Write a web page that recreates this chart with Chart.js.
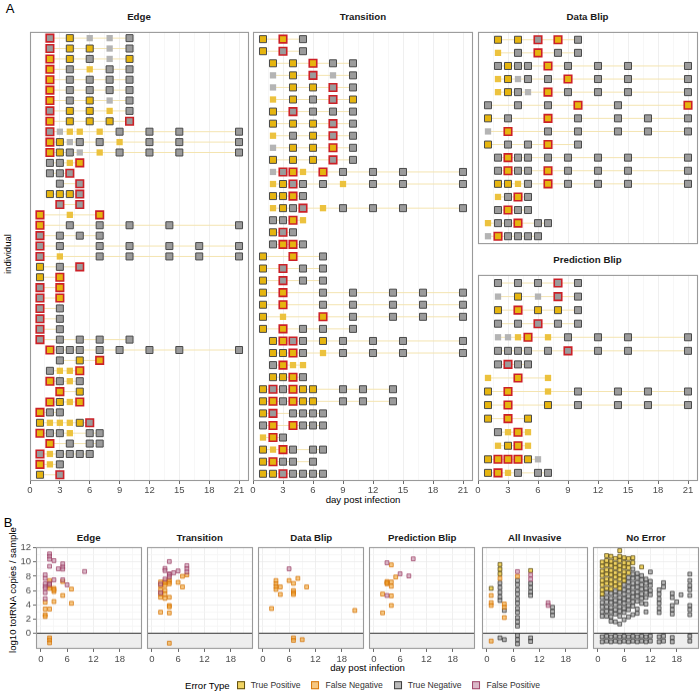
<!DOCTYPE html>
<html><head><meta charset="utf-8">
<script src="https://cdn.jsdelivr.net/npm/chart.js@4.4.1/dist/chart.umd.min.js"></script>
<style>
html,body{margin:0;padding:0;background:#fff;}
#wrap{position:relative;width:700px;height:692px;overflow:hidden;font-family:"Liberation Sans",Arial,sans-serif;background:#fff;}
canvas{position:absolute;}
.t{position:absolute;transform:translate(-50%,-50%);white-space:nowrap;line-height:1;}
.strip{font-weight:bold;font-size:9.7px;color:#1a1a1a;}
.axt{font-size:9.6px;color:#000;}
.tag{font-size:13px;color:#000;}
.rot{transform:translate(-50%,-50%) rotate(-90deg);}
#legend{position:absolute;left:368px;top:685.7px;transform:translate(-50%,-50%);display:flex;align-items:center;white-space:nowrap;line-height:1;}
#legend .lt{font-size:9.6px;color:#000;margin-right:7px;}
#legend .sq{width:6px;height:6px;border:1px solid;margin-right:6px;}
#legend .tx{font-size:8.6px;color:#333;margin-right:11px;}
</style></head>
<body><div id="wrap">
<div class="t tag" style="left:10px;top:8px;">A</div>
<div class="t strip" style="left:139px;top:17px;">Edge</div>
<div class="t strip" style="left:363px;top:17px;">Transition</div>
<div class="t strip" style="left:587.5px;top:17px;">Data Blip</div>
<div class="t strip" style="left:587.5px;top:260px;">Prediction Blip</div>
<div class="t axt rot" style="left:8px;top:254px;">individual</div>
<div class="t axt" style="left:363px;top:500px;">day post infection</div>
<div class="t tag" style="left:8px;top:522px;">B</div>
<div class="t strip" style="left:88.7px;top:538.3px;">Edge</div>
<div class="t strip" style="left:199.7px;top:538.3px;">Transition</div>
<div class="t strip" style="left:311.3px;top:538.3px;">Data Blip</div>
<div class="t strip" style="left:422.3px;top:538.3px;">Prediction Blip</div>
<div class="t strip" style="left:534.7px;top:538.3px;">All Invasive</div>
<div class="t strip" style="left:645.8px;top:538.3px;">No Error</div>
<div class="t axt rot" style="left:13px;top:590px;">log10 totRNA copies / sample</div>
<div class="t axt" style="left:367.5px;top:668.3px;">day post infection</div>
<div id="legend"></div>
</div>
<script>
// ---------------- DATA: panel A (day + code per individual row) ----------------
// codes: YD yellow/dark border, GD grey/dark border, YR yellow/red border, GR grey/red border, Y small yellow, G small grey
const edgeRows = [
"2GR 4YD 6G 8G 10GD","2GR 4YD 6YD 8G 10GD","2YR 4YD 6GD 8G 10YD","2YR 4GD 6Y 8GD 10GD",
"2YR 4GD 6GD 8GD 10GD","2YR 4GD 6GD 8GD 10GD","2YR 4GD 6YD 8G 10GD","2GR 4YD 6YD 8Y 10GD",
"2YR 4YD 6YD 8YD 10GR","2GR 3G 4Y 5Y 7Y 9GD 12GD 15GD 21GD","2YR 3YD 4G 5GD 7GD 9Y 12GD 15GD 21GD",
"2YR 3YD 4GD 5G 7Y 9GD 12GD 15GD 21GD","2GD 3GD 4Y 5YR","2GD 3GD 4GR","3GD 5GR","2YD 3YD 4YD 5GR",
"3GR 5GR","1YR 4Y 7YR","1YR 4GD 7GD 10GD 14GD 21GD","1GR 3GD 5GD 7GD",
"1GR 3GD 7GD 10GD 14GD 17GD 21GD","1GR 3Y 7GD 10GD 14GD 17GD 21GD","1YD 3GD 5GR","1YD 3YR",
"1GR 3YR","1GR 3YR","1GR 3GD","1GR 3GD","1GR 3GD","1GR 3GD 5GD 7GD 10GD",
"2YR 3GD 4GD 5GD 7GD 9GD 12GD 15GD 21GD","3GD 5YD 7YR","2GD 3Y 4Y 5YR","2YR 3GD 4Y 5GD",
"3YR 5YD","2YR 3YD 4Y 5YR","1YR 2GD 3GD","1YD 2Y 3Y 4Y 5YD 6GR","1YR 2GD 3GD 4Y 6GD 7GD",
"2YR 4GD 6GD 7GD","1GR 2Y 3GD 4GD 5GD 6GD","1YR 2Y 3GD","1YD 3GR"
];
const transitionRows = [
"1YD 3YR 5GD","1YD 3GR 5GD","2YD 4YD 6YR 8GD 10GD","2G 4YD 6GR 8G 10GD","2G 4YD 6YD 8GR 10GD",
"2Y 4YD 6GD 8GR 10YD","2YD 4GR 6GD 8GD 10GD","2YD 4YD 6YD 8GR 10GD","2Y 4GD 6YD 8GR 10GD",
"2G 4YD 6YD 8YR 10GD","2YD 4YD 6YD 8GR 10GD","2G 3GR 4YR 5Y 7YR 9GD 12GD 15GD 21GD",
"2Y 3YD 4GR 5GD 7GD 9Y 12GD 15GD 21GD","2YD 3YD 4YR 5GD","2Y 3YD 4GD 5GR 7Y 9GD 12GD 15GD 21GD",
"2GD 3GD 4YR 5Y","2YD 3GR 4GD","2GD 3YR 4YR 5GD","1YD 4YR 7GD","1YD 3GR 5GD 7GD","1YD 3GR 5GD 7GD",
"1YD 3YR 7GD 10GD 14GD 17GD 21GD","1YD 3YR 7GD 10GD 14GD 17GD 21GD","1YD 3Y 7YR 10GD 14GD 17GD 21GD",
"1YD 3YR 5GD 7GD 10GD","2YD 3YR 4GR 5GD 7YD 9GD 12GD 15GD 21GD","2YD 3YD 4YR 5GD 7Y 9GD 12GD 15GD 21GD",
"2GD 3YR 4Y 5Y","2YD 3YD 4YR 5GD","1YD 2GR 3GD 4YR 5YD 6YD 9GD 11GD 14GD",
"1YD 2YR 3GD 4YR 5YD 6YD 9GD 11GD 14GD","1YD 2GR 4GD 5GD 6GD 7GD","1GD 2YR 4YR 5GD 6GD 7GD",
"1Y 2YR 3GD","1YD 2Y 3YR 4GD 6GD 7GD","1YD 2YR 3GD 4GD 6GD","1YD 2YD 3GR 4GD 5GD 6GD 7GD"
];
const dataBlipRows = [
"2YD 4YD 6GR 8YR 10GD","2Y 4GD 6YR 8GD 10GD","2GD 3YD 4GD 5GD 7YR 9GD 12GD 15GD 21GD",
"2Y 3YD 4G 5GD 7GD 9YR 12GD 15GD 21GD","2Y 3YD 4GD 5G 7YR 9GD 12GD 15GD 21GD",
"1GD 4GD 7GD 10YR 14GD 21YR","1YD 3GD 7YR 10GD 14GD 17GD 21GD","1G 3YR 7GD 10GD 14GD 17GD 21GD",
"1YD 3GD 5GD 7YR 10GD","2GD 3YR 4GD 5GD 7GD 9GD 12GD 15GD 21GD","2GD 3YR 4GD 5GD 7YR 9GD 12GD 15GD 21GD",
"2YD 3YD 4Y 5GD 7YR 9GD 12GD 15GD 21GD","2Y 3GD 4YR 5GD","2GD 3YR 4GD 5GD","1Y 2GD 3GD 4YR 6GD 7GD",
"1G 2YR 3GD 4GD 5GD 6GD"
];
const predBlipRows = [
"2GD 4GD 6GD 8GR 10GD","2G 4YD 6G 8GR 10GD","2YD 4YR 6YD 8YD 10GD","2GD 4GD 6GR 8GD 10GD",
"2G 3G 4Y 5YR 7Y 9GD 12GD 15GD 21GD","2GD 3GD 4GD 5GD 7GD 9GR 12GD 15GD 21GD","2GD 3GR 4GD 5GD",
"1Y 4YR 7Y","1YD 3YR 7Y 10GD 14GD 17GD 21GD","1YD 3YR 7YD 10GD 14GD 17GD 21GD","1YD 3YR 5YD",
"2GD 3Y 4YR 5Y","2Y 3YD 4YR 5Y","1YD 2YR 3YR 4YR 5YD 6G","1YD 2YR 3Y 4GD 6GD 7GD"
];
const dayTicksA = [0,3,6,9,12,15,18,21];
const dayTicksB = [0,6,12,18];
const yTicksB = [0,2,4,6,8,10,12];

// ---------------- DATA: panel B ([day, log10 copies]) ----------------
const bEdgeFP = [[2,11.15],[2,10.8],[2,10.4],[3,10.2],[2,9.4],[4,9.05],[5,9.75],[5,9.3],[5,9.0],[10,8.67],
 [1,8.2],[1,7.7],[1,6.95],[1,6.55],[1,6.3],[1,5.7],[1,4.85],[3,7.5],[6,6.8],[5,7.5],[2,7.0],[2,6.85]];
const bEdgeFN = [[2,7.4],[2,6.6],[3,6.3],[3,5.85],[5,5.3],[3,4.45],[1,4.35],[7,4.2],[1,3.4],[2,3.4],
 [1,2.6],[1,2.35],[5,7.26],[7,6.2],[2,6.3],[3,6.1],[2,-0.65],[2,-0.95],[2,-1.35]];
const bTransFP = [[4,10.07],[3,9.1],[3,8.8],[4,8.35],[5,8.5],[6,8.75],[8,9.5],[8,9.05],[8,8.6],[4,8.2],[4,7.9],[3,7.6],[2,6.9],[2,5.7]];
const bTransFN = [[8,8.2],[7,8.0],[3,7.3],[2,7.2],[3,7.05],[4,7.2],[2,6.7],[3,6.7],[4,6.95],[2,6.1],[3,6.0],[2,5.5],
 [3,5.5],[2,5.05],[3,4.9],[6,7.15],[7,6.5],[4,5.05],[4,3.9],[4,3.7],[2,2.95],[4,2.85],[4,7.5],[4,-1.4]];
const bDataFP = [[6,9.05]];
const bDataFN = [[3,7.4],[3,6.95],[3,6.55],[3,6.15],[4,6.5],[4,5.45],[6,7.4],[7,7.0],[8,7.7],[7,6.0],[7,5.7],
 [7,5.45],[10,6.5],[2,3.47],[21,3.2],[7,-0.65],[7,-1.0],[9,-0.9]];
const bPredFP = [[3,9.9],[9,10.45],[6,8.35],[8,8.05],[3,5.3]];
const bPredFN = [[4,9.6],[5,7.9],[3,7.26],[3,6.95],[4,7.2],[4,6.6],[2,5.5],[4,5.25],[4,3.9],[2,2.86],[3,7.1]];
const invTP = [[1,6.3],[3,9.65],[3,9.0],[3,8.35],[10,8.8]];
const invFN = [[1,5.3],[1,4.3],[1,3.9],[1,-1.1],[4,4.1],[4,3.65],[4,2.2],[3,7.7],[7,8.0]];
const invFP = [[7,8.65],[10,8.2],[10,7.6],[14,4.27],[14,3.9]];
const invTN = [[3,7.05],[3,6.4],[3,5.75],[3,5.1],[3,4.6],[3,-0.65],[4,3.2],[4,-0.9],
 [7,7.4],[7,6.8],[7,6.1],[7,5.5],[7,4.8],[7,4.2],[7,3.5],[7,2.9],[7,2.2],[7,1.6],[7,1.0],
 [7,-0.3],[7,-0.9],[7,-1.5],[10,7.0],[10,6.4],[10,5.8],[10,5.3],[10,-0.65],[10,-1.15],
 [15,3.65],[15,3.05],[15,2.5]];
// No Error: [day, values...]
const noErrTP = [
 [1,10.0,9.4,8.7,8.1,7.4,6.8,6.1,5.5],
 [2,10.9,10.2,9.6,8.9,8.3,7.6,7.0,6.3],
 [3,10.8,10.1,9.5,8.8,8.2,7.5,6.9,6.2],
 [4,10.5,9.8,9.2,8.5,7.9,7.2,6.6],
 [5,11.6,10.8,10.2,9.5,8.9,8.2,7.6,6.9,6.3],
 [6,10.6,9.9,9.3,8.6,8.0,7.4],
 [7,10.5,9.8,9.2,8.5],
 [8,10.6,9.9],
 [10,9.3]
];
const noErrTN = [
 [1,5.0,4.3,3.7,3.0,2.4,-0.5,-1.2],
 [2,5.7,5.0,4.4,3.7,3.1,2.4,-0.4,-1.1],
 [3,5.6,4.9,4.3,3.6,3.0,2.3,1.7,-0.5,-1.2],
 [4,5.9,5.3,4.6,4.0,3.3,2.7,1.6,-0.4,-1.1],
 [5,5.7,5.0,4.4,3.7,3.1,2.4,1.3,-0.5,-1.2],
 [6,6.8,6.1,5.5,4.8,4.2,3.5,2.9,1.9,-0.4,-1.1],
 [7,7.8,7.2,6.5,5.9,5.2,4.6,3.9,3.3,2.3,-0.5,-1.2],
 [8,9.0,8.3,7.7,7.0,6.4,5.7,5.1,4.4,3.8,2.6,-0.4,-1.1],
 [9,8.4,7.8,7.1,6.5,5.8,5.2,4.5,3.4,2.8,-0.5,-1.2],
 [10,8.1,7.5,6.8,6.2,5.5,4.9,4.2,-0.4,-1.1],
 [11,7.6,7.0,6.3,5.7,5.0,4.1,3.0,-0.5,-1.2],
 [12,8.6,7.3,6.7,6.0,5.4,-0.4,-1.1],
 [14,6.1,5.5,4.8,4.2,3.5,2.9,-0.5,-1.2],
 [15,7.1,6.5,-0.4,-1.1],
 [17,5.6,5.0,3.9,3.3,2.7,-0.6,-1.2],
 [18,4.4],
 [19,5.4],
 [21,8.3,7.4,6.7,6.1,5.3,3.9,3.3,2.6,-0.4,-1.1]
];

// ---------------- RENDERING ----------------
Chart.defaults.font.family = '"Liberation Sans", Arial, sans-serif';
Chart.defaults.color = '#4d4d4d';
const wrap = document.getElementById('wrap');
const C = {yellow:'#E6B50F', grey:'#9B9B9B', dark:'#4A4A4A', red:'#CC2027', sYellow:'#ECC23E', sGrey:'#B4B4B4', line:'#F4E4B0'};
const B = {
  TP:{bg:'rgba(231,184,0,0.62)', bd:'rgba(70,55,0,0.85)'},
  FN:{bg:'rgba(240,162,45,0.6)', bd:'rgba(212,112,0,0.9)'},
  TN:{bg:'rgba(140,140,140,0.6)', bd:'rgba(40,40,40,0.85)'},
  FP:{bg:'rgba(196,140,166,0.62)', bd:'rgba(150,50,90,0.85)'}
};
const near = (arr, v) => arr.some(t => Math.abs(t - v) < 1e-6);

function mkCanvas(left, top, w, h){
  const c = document.createElement('canvas');
  c.width = w; c.height = h;
  c.style.left = left + 'px'; c.style.top = top + 'px';
  c.style.width = w + 'px'; c.style.height = h + 'px';
  wrap.appendChild(c);
  return c;
}
const borderPlugin = {id:'pborder', afterDraw(chart){
  const {ctx, chartArea:a} = chart;
  ctx.save(); ctx.strokeStyle = '#9a9a9a'; ctx.lineWidth = 1.1;
  ctx.strokeRect(a.left + 0.5, a.top + 0.5, a.width - 1, a.height - 1); ctx.restore();
}};
const shadePlugin = {id:'shade', beforeDatasetsDraw(chart){
  const {ctx, chartArea:a, scales} = chart; const y0 = scales.y.getPixelForValue(0);
  ctx.save(); ctx.fillStyle = '#EEEEEE'; ctx.fillRect(a.left, y0, a.width, a.bottom - y0);
  ctx.strokeStyle = '#333'; ctx.lineWidth = 1.1; ctx.beginPath(); ctx.moveTo(a.left, y0); ctx.lineTo(a.right, y0); ctx.stroke();
  ctx.restore();
}};

function buildRows(rows){
  const pts = {YD:[],GD:[],YR:[],GR:[],Y:[],G:[]}; const line = [];
  rows.forEach((r, i) => {
    const y = i + 1;
    const items = r.trim().split(/\s+/).map(s => { const m = s.match(/^(\d+)([A-Z]+)$/); return {x:+m[1], c:m[2]}; });
    items.forEach(it => pts[it.c].push({x:it.x, y}));
    const xs = items.map(it => it.x);
    line.push({x:Math.min(...xs), y}, {x:Math.max(...xs), y}, {x:Math.max(...xs), y:null});
  });
  return {pts, line};
}

const PAD = 12;
function aChart(rows, L, T, W, H, showX){
  const n = rows.length; const {pts, line} = buildRows(rows);
  const padB = showX ? 22 : 0;
  const c = mkCanvas(L - PAD, T - 2, W + 2*PAD, H + 2 + padB);
  const sq = (data, r, bg, bd, bw, order) => ({data, pointStyle:'rect', pointRadius:r, pointBackgroundColor:bg, pointBorderColor:bd, pointBorderWidth:bw, order});
  new Chart(c, {
    type:'scatter',
    data:{datasets:[
      sq(pts.GR, 5.3, C.grey, C.red, 1.6, 0),
      sq(pts.YR, 5.3, C.yellow, C.red, 1.6, 0),
      sq(pts.GD, 4.95, C.grey, C.dark, 1, 1),
      sq(pts.YD, 4.95, C.yellow, C.dark, 1, 1),
      sq(pts.G, 4.45, C.sGrey, C.sGrey, 0, 2),
      sq(pts.Y, 4.45, C.sYellow, C.sYellow, 0, 2),
      {data:line, showLine:true, spanGaps:false, borderColor:C.line, borderWidth:1, pointRadius:0, order:3}
    ]},
    options:{
      responsive:false, animation:false, events:[],
      layout:{padding:{left:PAD, right:PAD, top:2, bottom:0}},
      plugins:{legend:{display:false}, tooltip:{enabled:false}},
      scales:{
        x:{type:'linear', min:0, max:22, border:{display:false},
          ticks:{display:showX, stepSize:1.5, includeBounds:false, autoSkip:false, maxRotation:0, padding:1,
            font:{size:9.5}, color:'#4d4d4d', callback:v => near(dayTicksA, v) ? String(v) : ''},
          grid:{color:cx => (cx.tick && near(dayTicksA, cx.tick.value)) ? '#EBEBEB' : '#F5F5F5', lineWidth:0.8,
            drawTicks:showX, tickLength:3, tickWidth:0.8,
            tickColor:cx => (cx.tick && near(dayTicksA, cx.tick.value)) ? '#444' : 'rgba(0,0,0,0)'},
          afterFit:s => { s.height = padB; }},
        y:{type:'linear', display:false, reverse:true, min:0.4, max:n + 0.6}
      }
    },
    plugins:[borderPlugin]
  });
}

aChart(edgeRows, 29.5, 27, 219, 454, true);
aChart(transitionRows, 253, 27, 220, 454, true);
aChart(dataBlipRows, 477.5, 27, 220, 224, false);
aChart(predBlipRows, 477.5, 270, 220, 211, true);

function toPts(arr){ return arr.map(p => ({x:p[0], y:p[1]})); }
function colPts(cols){ const out = []; cols.forEach(c => { for (let i = 1; i < c.length; i++) out.push({x:c[0], y:c[i]}); }); return out; }

function bChart(L, T, W, H, sets, first){
  const yW = first ? 22 : 0; const padL = first ? 0 : 8; const padT = 8, padR = 8, padB = 16;
  const c = mkCanvas(L - yW - padL, T - padT, W + yW + padL + padR, H + padT + padB);
  const ds = [];
  const add = (data, k, order) => { if (data && data.length) ds.push({data, pointStyle:'rect', pointRadius:2.7,
    pointBackgroundColor:B[k].bg, pointBorderColor:B[k].bd, pointBorderWidth:0.8, order}); };
  add(sets.FP, 'FP', 0); add(sets.FN, 'FN', 1); add(sets.TP, 'TP', 2); add(sets.TN, 'TN', 3);
  const gridCol = (cx, ticks) => { if (!cx.tick) return '#EBEBEB'; const v = cx.tick.value; if (v < 0) return 'rgba(0,0,0,0)'; return near(ticks, v) ? '#EBEBEB' : '#F5F5F5'; };
  new Chart(c, {
    type:'scatter', data:{datasets:ds},
    options:{
      responsive:false, animation:false, events:[],
      layout:{padding:{left:padL, right:padR, top:padT, bottom:0}},
      plugins:{legend:{display:false}, tooltip:{enabled:false}},
      scales:{
        x:{type:'linear', min:-1.1, max:23.1, border:{display:false},
          ticks:{stepSize:3, includeBounds:false, autoSkip:false, maxRotation:0, padding:2, font:{size:9.5}, color:'#4d4d4d',
            callback:v => near(dayTicksB, v) ? String(v) : ''},
          grid:{color:cx => gridCol(cx, dayTicksB), lineWidth:0.8, tickLength:3, tickWidth:0.8,
            tickColor:cx => (cx.tick && near(dayTicksB, cx.tick.value)) ? '#444' : 'rgba(0,0,0,0)'},
          afterFit:s => { s.height = padB; }},
        y:{type:'linear', min:-2.2, max:12.1, border:{display:false},
          ticks:{display:first, stepSize:1, includeBounds:false, autoSkip:false, padding:2, font:{size:9.5}, color:'#4d4d4d',
            callback:v => near(yTicksB, v) ? String(v) : ''},
          grid:{color:cx => gridCol(cx, yTicksB), lineWidth:0.8, drawTicks:first, tickLength:3, tickWidth:0.8,
            tickColor:cx => (cx.tick && near(yTicksB, cx.tick.value)) ? '#444' : 'rgba(0,0,0,0)'},
          afterFit:s => { s.width = yW; }}
      }
    },
    plugins:[shadePlugin, borderPlugin]
  });
}

const BT = 547, BH = 101.5, BW = 106;
bChart(35.7, BT, BW, BH, {FP:toPts(bEdgeFP), FN:toPts(bEdgeFN)}, true);
bChart(146.7, BT, BW, BH, {FP:toPts(bTransFP), FN:toPts(bTransFN)}, false);
bChart(258.3, BT, BW, BH, {FP:toPts(bDataFP), FN:toPts(bDataFN)}, false);
bChart(369.3, BT, BW, BH, {FP:toPts(bPredFP), FN:toPts(bPredFN)}, false);
bChart(481.7, BT, BW, BH, {TP:toPts(invTP), FN:toPts(invFN), FP:toPts(invFP), TN:toPts(invTN)}, false);
bChart(592.5, BT, BW, BH, {TP:colPts(noErrTP), TN:colPts(noErrTN)}, false);

// legend
const legendItems = [['True Positive','TP'],['False Negative','FN'],['True Negative','TN'],['False Positive','FP']];
const lg = document.getElementById('legend');
lg.innerHTML = '<span class="lt">Error Type</span>' + legendItems.map(([lab, k]) =>
  `<span class="sq" style="background:${B[k].bg};border-color:${B[k].bd}"></span><span class="tx">${lab}</span>`).join('');
</script>
</body></html>
